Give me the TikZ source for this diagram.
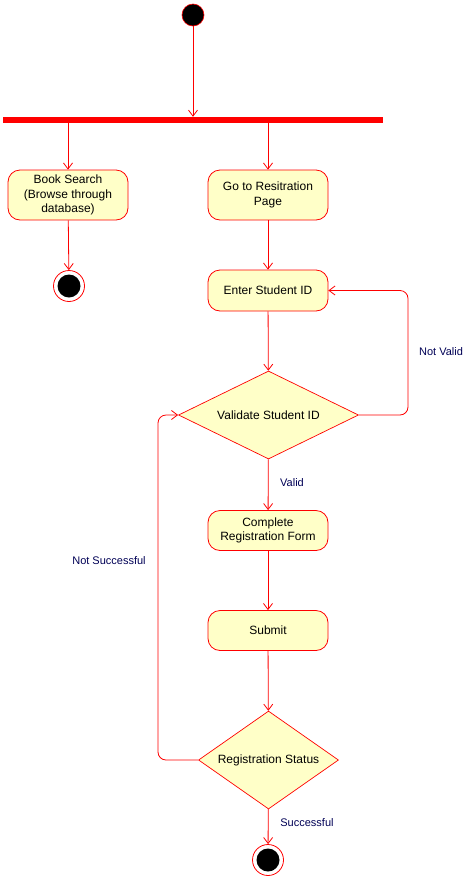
\documentclass[tikz,border=0pt]{standalone}
\usepackage{fontspec}
\setmainfont{Liberation Sans}
\usetikzlibrary{shapes.geometric,arrows.meta}
\definecolor{actfill}{RGB}{255,255,200}
\definecolor{guardblue}{RGB}{0,0,85}
\tikzset{
  activity/.style={draw=red, fill=actfill, rounded corners=12pt, line width=0.8pt,
    minimum width=120pt, align=center, font=\fontsize{12}{14.5}\selectfont},
  decision/.style={diamond, draw=red, fill=actfill, line width=0.7pt, inner sep=0pt,
    font=\fontsize{12}{14.5}\selectfont},
  startnode/.style={circle, draw=red, fill=black, line width=0.6pt, minimum size=22pt, inner sep=0pt},
  endnode/.style={circle, draw=red, fill=white, line width=0.8pt, minimum size=31pt, inner sep=0pt,
    path picture={\fill[black] (path picture bounding box.center) circle (11.5pt);}},
  flow/.style={draw=red, line width=0.8pt, -{Straight Barb[length=6pt,width=9pt]}},
  guard/.style={text=guardblue, font=\fontsize{11}{13}\selectfont, inner sep=0pt}
}
\begin{document}
\begin{tikzpicture}[x=1pt,y=-1pt]
\useasboundingbox (0,0) rectangle (463,876);

% initial node and fork bar
\node[startnode] (start) at (193,15) {};
\node[fill=red, minimum width=380pt, minimum height=6pt, inner sep=0pt] (fork) at (193,120) {};

% activities
\node[activity, minimum height=50pt] (book) at (68,195) {Book Search\\(Browse through\\database)};
\node[activity, minimum height=50pt] (regpage) at (268,195) {Go to Resitration\\Page};
\node[endnode] (endl) at (69,286) {};
\node[activity, minimum height=41pt] (enterid) at (268,290.5) {Enter Student ID};
\node[decision, aspect=2, minimum width=180pt, minimum height=88pt] (validate) at (268.5,415) {Validate Student ID};
\node[activity, minimum height=40pt] (regform) at (268,530.5) {Complete\\Registration Form};
\node[activity, minimum height=40pt] (submit) at (268,630.5) {Submit};
\node[decision, aspect=1.4, minimum width=140pt, minimum height=98pt] (status) at (268.5,760) {Registration Status};
\node[endnode] (endb) at (268,860) {};

% turning points of the loops
\coordinate (nvright) at (408,0);
\coordinate (nsleft) at (158,0);

% guards
\node[guard] (nvlabel) at (441,352) {Not Valid};
\node[guard] (vlabel) at (292,483) {Valid};
\node[guard] (nslabel) at (109,561) {Not Successful};
\node[guard] (slabel) at (307,823) {Successful};

% flows
\draw[flow] (start) -- (fork);
\draw[flow] (fork.south -| book) -- (book);
\draw[flow] (fork.south -| regpage) -- (regpage);
\draw[flow] (book) -- (endl);
\draw[flow] (regpage) -- (enterid);
\draw[flow] (enterid) -- (validate);
\draw[flow, rounded corners=8pt] (validate.east) -| (nvright |- enterid.east) -- (enterid.east);
\draw[flow] (validate) -- (regform);
\draw[flow] (regform) -- (submit);
\draw[flow] (submit) -- (status);
\draw[flow, rounded corners=8pt] (status.west) -| (nsleft |- validate.west) -- (validate.west);
\draw[flow] (status) -- (endb);
\end{tikzpicture}
\end{document}
